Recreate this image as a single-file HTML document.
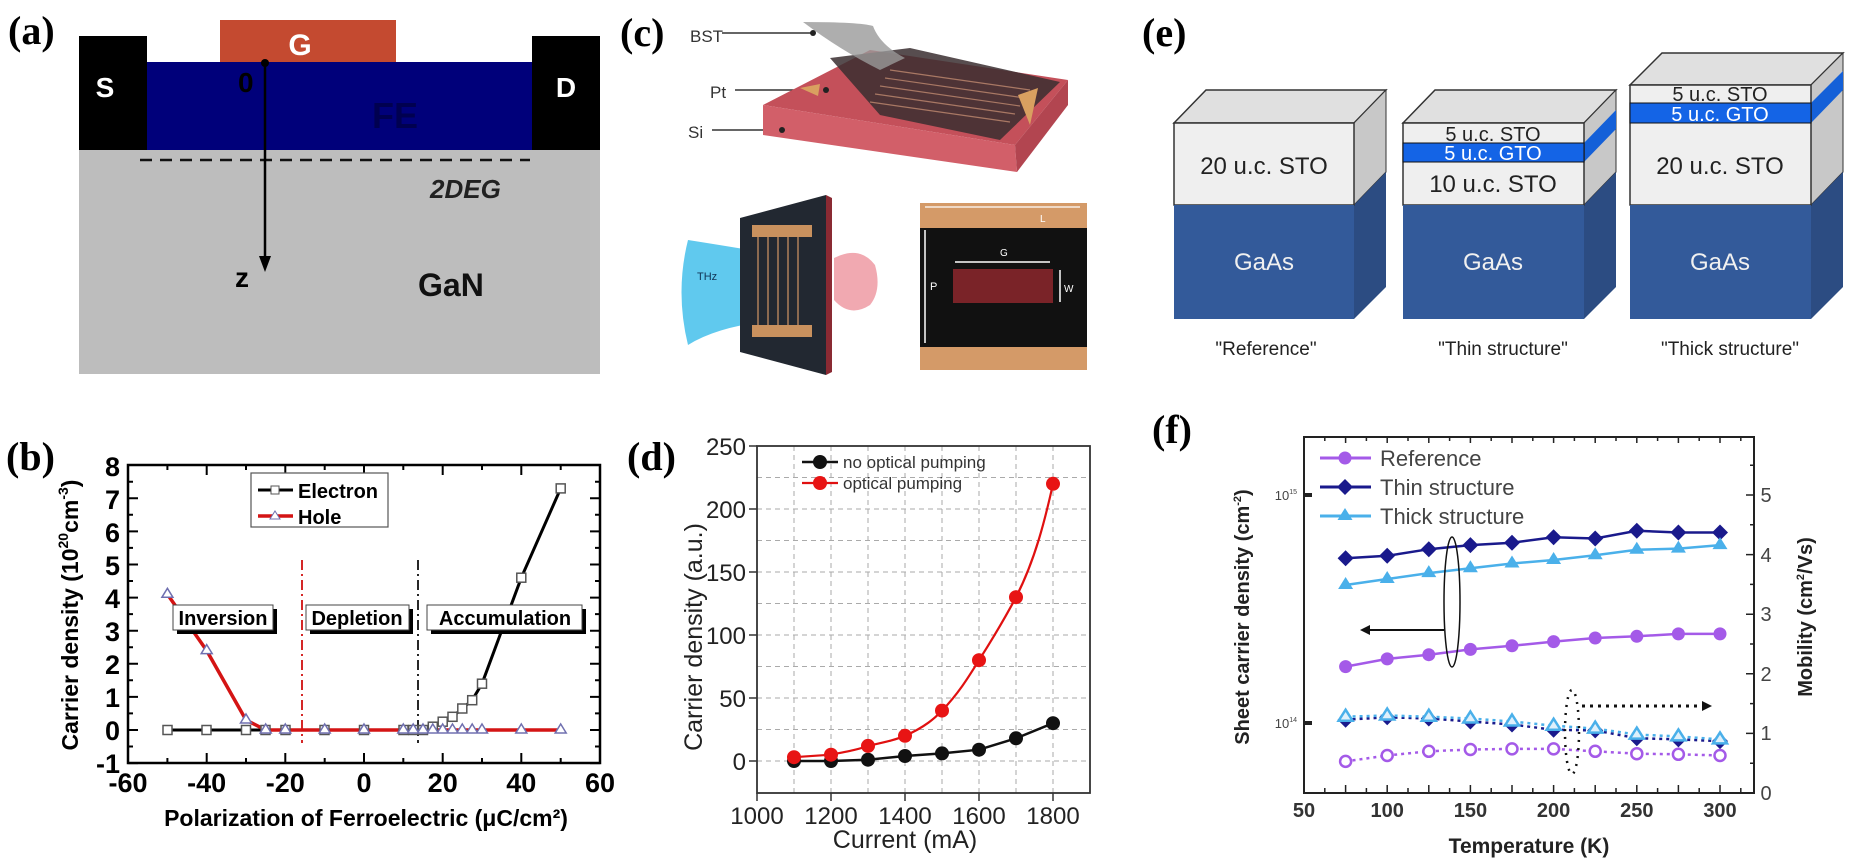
<!DOCTYPE html>
<html><head><meta charset="utf-8"><style>
html,body{margin:0;padding:0;background:#fff;}
svg{display:block;}
text{font-family:"Liberation Sans",sans-serif;}
.pl{font-family:"Liberation Serif",serif;font-weight:bold;font-size:40px;}
</style></head><body>
<svg width="1850" height="866" viewBox="0 0 1850 866" xmlns="http://www.w3.org/2000/svg">
<!-- (a) -->
<text class="pl" x="8" y="44">(a)</text>
<rect x="79" y="150" width="521" height="224" fill="#bdbdbd"/>
<rect x="147" y="62" width="385" height="88" fill="#00007a"/>
<rect x="79" y="36" width="68" height="114" fill="#000"/>
<rect x="532" y="36" width="68" height="114" fill="#000"/>
<rect x="220" y="20" width="176" height="42" fill="#c44a30"/>
<text x="300" y="55" font-size="30" font-weight="bold" fill="#fff" text-anchor="middle">G</text>
<text x="105" y="97" font-size="28" font-weight="bold" fill="#fff" text-anchor="middle">S</text>
<text x="566" y="97" font-size="28" font-weight="bold" fill="#fff" text-anchor="middle">D</text>
<text x="395" y="128" font-size="36" font-weight="bold" fill="#000050" text-anchor="middle">FE</text>
<text x="238" y="92" font-size="28" font-weight="bold" fill="#000">0</text>
<line x1="140" y1="160" x2="530" y2="160" stroke="#111" stroke-width="2.5" stroke-dasharray="12,8"/>
<text x="430" y="198" font-size="26" font-weight="bold" font-style="italic" fill="#222">2DEG</text>
<circle cx="265" cy="63" r="4" fill="#000"/>
<line x1="265" y1="63" x2="265" y2="262" stroke="#000" stroke-width="2.5"/>
<polygon points="259,256 271,256 265,272" fill="#000"/>
<text x="235" y="287" font-size="28" font-weight="bold">z</text>
<text x="418" y="296" font-size="32" font-weight="bold" fill="#111">GaN</text>

<!-- (c) -->
<text class="pl" x="620" y="46">(c)</text>
<text x="690" y="42" font-size="17" fill="#333">BST</text>
<line x1="722" y1="33" x2="812" y2="33" stroke="#333" stroke-width="1.5"/>
<text x="710" y="98" font-size="17" fill="#333">Pt</text>
<line x1="735" y1="90" x2="826" y2="90" stroke="#333" stroke-width="1.5"/>
<text x="688" y="138" font-size="17" fill="#333">Si</text>
<line x1="712" y1="130" x2="782" y2="130" stroke="#333" stroke-width="1.5"/>
<polygon points="763,105 870,50 1068,80 1015,145" fill="#c4505a"/>
<polygon points="763,105 1015,145 1017,172 763,135" fill="#d25f69"/>
<polygon points="1015,145 1068,80 1068,105 1017,172" fill="#b24550"/>
<polygon points="830,58 910,48 1060,82 1000,140 880,115" fill="#3a2e30" opacity="0.85"/>
<g stroke="#c08a70" stroke-width="1.2" opacity="0.8">
<line x1="890" y1="70" x2="1030" y2="90"/><line x1="885" y1="78" x2="1025" y2="98"/><line x1="880" y1="86" x2="1020" y2="106"/><line x1="875" y1="94" x2="1015" y2="114"/><line x1="870" y1="102" x2="1010" y2="122"/>
</g>
<polygon points="1018,95 1038,88 1030,125" fill="#d9a060"/>
<polygon points="800,88 820,84 818,96" fill="#d9a060"/>
<path d="M803,22 Q860,22 873,26 Q880,45 905,58 L880,70 Q840,50 803,22 Z" fill="#9a9a9a" opacity="0.8"/>
<circle cx="813" cy="33" r="3" fill="#222"/><circle cx="826" cy="90" r="3" fill="#222"/><circle cx="782" cy="130" r="3" fill="#222"/>
<path d="M688,240 Q720,245 780,255 L780,320 Q720,325 688,345 Q675,292 688,240 Z" fill="#4fc3ec" opacity="0.9"/>
<polygon points="740,218 826,195 826,375 740,352" fill="#222831"/>
<polygon points="826,195 832,198 832,372 826,375" fill="#8a2a33"/>
<rect x="752" y="225" width="60" height="12" fill="#c9915e"/>
<rect x="752" y="325" width="60" height="12" fill="#c9915e"/>
<g stroke="#b0805a" stroke-width="1.5"><line x1="758" y1="237" x2="758" y2="325"/><line x1="768" y1="237" x2="768" y2="325"/><line x1="778" y1="237" x2="778" y2="325"/><line x1="788" y1="237" x2="788" y2="325"/><line x1="798" y1="237" x2="798" y2="325"/></g>
<path d="M834,258 Q860,245 875,265 Q882,290 870,305 Q850,318 834,300 Z" fill="#ee9aa3" opacity="0.85"/>
<text x="697" y="280" font-size="11" fill="#135">THz</text>
<rect x="920" y="203" width="167" height="167" fill="#111"/>
<rect x="920" y="203" width="167" height="25" fill="#d49a68"/>
<rect x="920" y="347" width="167" height="23" fill="#d49a68"/>
<rect x="953" y="269" width="100" height="34" fill="#7a2328"/>
<line x1="925" y1="207" x2="1080" y2="207" stroke="#fff" stroke-width="1.2"/>
<line x1="955" y1="262" x2="1050" y2="262" stroke="#fff" stroke-width="1.5"/>
<line x1="1060" y1="270" x2="1060" y2="302" stroke="#fff" stroke-width="1.5"/>
<line x1="925" y1="230" x2="925" y2="343" stroke="#fff" stroke-width="1.5"/>
<text x="930" y="290" font-size="11" fill="#fff">P</text>
<text x="1064" y="292" font-size="10" fill="#fff">W</text>
<text x="1000" y="256" font-size="10" fill="#fff">G</text>
<text x="1040" y="222" font-size="10" fill="#fff">L</text>

<!-- (e) -->
<text class="pl" x="1142" y="46">(e)</text>
<g font-family="Liberation Sans Narrow, Liberation Sans, sans-serif">
<polygon points="1174,123 1206,90 1386,90 1354,123" fill="#e0e0e0" stroke="#333" stroke-width="1.5"/>
<polygon points="1354,123 1386,90 1386,172 1354,205" fill="#c8c8c8" stroke="#333" stroke-width="1"/>
<polygon points="1354,205 1386,172 1386,287 1354,319" fill="#2c4c82"/>
<rect x="1174" y="123" width="180" height="82" fill="#efefef" stroke="#333" stroke-width="1.5"/>
<rect x="1174" y="205" width="180" height="114" fill="#335a9a"/>
<text x="1264" y="174" font-size="24" text-anchor="middle" fill="#222">20 u.c. STO</text>
<text x="1264" y="270" font-size="24" text-anchor="middle" fill="#f0f0f0">GaAs</text>
<polygon points="1403,123 1435,90 1616,90 1584,123" fill="#e0e0e0" stroke="#333" stroke-width="1.5"/>
<polygon points="1584,123 1616,90 1616,172 1584,205" fill="#c8c8c8" stroke="#333" stroke-width="1"/>
<polygon points="1584,143 1616,110 1616,129 1584,162" fill="#1460d8"/>
<polygon points="1584,205 1616,172 1616,287 1584,319" fill="#2c4c82"/>
<rect x="1403" y="123" width="181" height="82" fill="#efefef" stroke="#333" stroke-width="1.5"/>
<rect x="1403" y="143" width="181" height="19" fill="#1464e6" stroke="#111" stroke-width="1"/>
<rect x="1403" y="205" width="181" height="114" fill="#335a9a"/>
<text x="1493" y="141" font-size="20" text-anchor="middle" fill="#222">5 u.c. STO</text>
<text x="1493" y="160" font-size="20" text-anchor="middle" fill="#fff">5 u.c. GTO</text>
<text x="1493" y="192" font-size="24" text-anchor="middle" fill="#222">10 u.c. STO</text>
<text x="1493" y="270" font-size="24" text-anchor="middle" fill="#f0f0f0">GaAs</text>
<polygon points="1630,85 1662,53 1843,53 1811,85" fill="#e0e0e0" stroke="#333" stroke-width="1.5"/>
<polygon points="1811,85 1843,53 1843,172 1811,205" fill="#c8c8c8" stroke="#333" stroke-width="1"/>
<polygon points="1811,103 1843,71 1843,90 1811,123" fill="#1460d8"/>
<polygon points="1811,205 1843,172 1843,287 1811,319" fill="#2c4c82"/>
<rect x="1630" y="85" width="181" height="120" fill="#efefef" stroke="#333" stroke-width="1.5"/>
<rect x="1630" y="103" width="181" height="20" fill="#1464e6" stroke="#111" stroke-width="1"/>
<rect x="1630" y="205" width="181" height="114" fill="#335a9a"/>
<text x="1720" y="101" font-size="20" text-anchor="middle" fill="#222">5 u.c. STO</text>
<text x="1720" y="121" font-size="20" text-anchor="middle" fill="#fff">5 u.c. GTO</text>
<text x="1720" y="174" font-size="24" text-anchor="middle" fill="#222">20 u.c. STO</text>
<text x="1720" y="270" font-size="24" text-anchor="middle" fill="#f0f0f0">GaAs</text>
<text x="1266" y="355" font-size="19" text-anchor="middle" fill="#222">"Reference"</text>
<text x="1503" y="355" font-size="19" text-anchor="middle" fill="#222">"Thin structure"</text>
<text x="1730" y="355" font-size="19" text-anchor="middle" fill="#222">"Thick structure"</text>
</g>

<!-- (b) -->
<text class="pl" x="6" y="470">(b)</text>
<rect x="128" y="465" width="472" height="298" fill="none" stroke="#000" stroke-width="2.5"/>
<g stroke="#000" stroke-width="2">
<path d="M128,763.1h10M128,730h10M128,696.9h10M128,663.8h10M128,630.7h10M128,597.6h10M128,564.5h10M128,531.4h10M128,498.3h10M600,763.1h-10M600,730h-10M600,696.9h-10M600,663.8h-10M600,630.7h-10M600,597.6h-10M600,564.5h-10M600,531.4h-10M600,498.3h-10"/>
<path d="M128,746.5h5M128,713.4h5M128,680.3h5M128,647.2h5M128,614.1h5M128,581h5M128,547.9h5M128,514.8h5M128,481.7h5M600,746.5h-5M600,713.4h-5M600,680.3h-5M600,647.2h-5M600,614.1h-5M600,581h-5M600,547.9h-5M600,514.8h-5M600,481.7h-5"/>
<path d="M206.7,763v-10M285.3,763v-10M364,763v-10M442.7,763v-10M521.3,763v-10M206.7,465v10M285.3,465v10M364,465v10M442.7,465v10M521.3,465v10"/>
<path d="M167.4,763v-5M246,763v-5M324.7,763v-5M403.3,763v-5M482,763v-5M560.7,763v-5M167.4,465v5M246,465v5M324.7,465v5M403.3,465v5M482,465v5M560.7,465v5"/>
</g>
<g font-size="27" font-weight="bold" text-anchor="end">
<text x="120" y="773">-1</text><text x="120" y="740">0</text><text x="120" y="707">1</text><text x="120" y="674">2</text><text x="120" y="641">3</text><text x="120" y="608">4</text><text x="120" y="575">5</text><text x="120" y="542">6</text><text x="120" y="509">7</text><text x="120" y="476">8</text>
</g>
<g font-size="27" font-weight="bold" text-anchor="middle">
<text x="128" y="792">-60</text><text x="206.7" y="792">-40</text><text x="285.3" y="792">-20</text><text x="364" y="792">0</text><text x="442.7" y="792">20</text><text x="521.3" y="792">40</text><text x="600" y="792">60</text>
</g>
<text x="366" y="826" font-size="23" font-weight="bold" text-anchor="middle">Polarization of Ferroelectric (μC/cm²)</text>
<text transform="translate(78,615) rotate(-90)" font-size="23" font-weight="bold" text-anchor="middle">Carrier density (10<tspan font-size="14" dy="-10">20</tspan><tspan dy="10">cm</tspan><tspan font-size="14" dy="-10">-3</tspan><tspan dy="10">)</tspan></text>
<line x1="302" y1="560" x2="302" y2="743" stroke="#d01010" stroke-width="1.8" stroke-dasharray="10,4,2,4"/>
<line x1="418" y1="560" x2="418" y2="743" stroke="#111" stroke-width="1.8" stroke-dasharray="10,4,2,4"/>
<polyline fill="none" stroke="#000" stroke-width="3" points="167.4,730 413.2,730 423,730 432.8,726.7 442.7,721.7 452.5,716.8 462.3,708.5 472.2,700.2 482,683.7 521.3,577.7 560.7,488.4"/>
<polyline fill="none" stroke="#d41414" stroke-width="3.5" points="167.4,594.3 206.7,650.6 246,720 265.7,730 560.7,730"/>
<g fill="#fff" stroke="#555" stroke-width="1.5">
<rect x="163" y="725.5" width="9" height="9"/><rect x="202" y="725.5" width="9" height="9"/><rect x="241.5" y="725.5" width="9" height="9"/><rect x="261" y="725.5" width="9" height="9"/><rect x="281" y="725.5" width="9" height="9"/><rect x="320" y="725.5" width="9" height="9"/><rect x="359.5" y="725.5" width="9" height="9"/><rect x="399" y="725.5" width="9" height="9"/><rect x="408.7" y="725.5" width="9" height="9"/><rect x="418.5" y="725.5" width="9" height="9"/><rect x="428.3" y="722.2" width="9" height="9"/><rect x="438.2" y="717.2" width="9" height="9"/><rect x="448" y="712.3" width="9" height="9"/><rect x="457.8" y="704" width="9" height="9"/><rect x="467.7" y="695.7" width="9" height="9"/><rect x="477.5" y="679.2" width="9" height="9"/><rect x="516.8" y="573.2" width="9" height="9"/><rect x="556.2" y="483.9" width="9" height="9"/>
</g>
<g fill="#fff" stroke="#7070b0" stroke-width="1.5">
<path d="M167.4,588.3l5.5,9h-11z M206.7,644.6l5.5,9h-11z M246,714l5.5,9h-11z M265.7,724l5.5,9h-11z M285.3,724l5.5,9h-11z M324.7,724l5.5,9h-11z M364,724l5.5,9h-11z M403.3,724l5.5,9h-11z M413.2,724l5.5,9h-11z M423,724l5.5,9h-11z M432.8,724l5.5,9h-11z M442.7,724l5.5,9h-11z M452.5,724l5.5,9h-11z M462.3,724l5.5,9h-11z M472.2,724l5.5,9h-11z M482,724l5.5,9h-11z M521.3,724l5.5,9h-11z M560.7,724l5.5,9h-11z"/>
</g>
<rect x="251" y="473" width="137" height="54" fill="#fff" stroke="#555" stroke-width="1.2"/>
<line x1="258" y1="490" x2="293" y2="490" stroke="#000" stroke-width="3"/><rect x="271" y="486" width="8" height="8" fill="#fff" stroke="#555"/>
<line x1="258" y1="516" x2="293" y2="516" stroke="#d41414" stroke-width="3.5"/><path d="M275,511l5,8h-10z" fill="#fff" stroke="#7070b0"/>
<text x="298" y="498" font-size="20" font-weight="bold">Electron</text>
<text x="298" y="524" font-size="20" font-weight="bold">Hole</text>
<g font-size="20" font-weight="bold">
<rect x="177" y="609" width="100" height="25" fill="#000"/><rect x="173" y="605" width="100" height="25" fill="#fff" stroke="#444"/><text x="223" y="625" text-anchor="middle">Inversion</text>
<rect x="310" y="609" width="103" height="25" fill="#000"/><rect x="306" y="605" width="103" height="25" fill="#fff" stroke="#444"/><text x="357" y="625" text-anchor="middle">Depletion</text>
<rect x="431" y="609" width="155" height="25" fill="#000"/><rect x="427" y="605" width="155" height="25" fill="#fff" stroke="#444"/><text x="505" y="625" text-anchor="middle">Accumulation</text>
</g>

<!-- (d) -->
<text class="pl" x="627" y="470">(d)</text>
<g stroke="#aaa" stroke-width="1" stroke-dasharray="5,4">
<path d="M757,729.5H1090M757,698H1090M757,666.5H1090M757,635H1090M757,603.5H1090M757,572H1090M757,540.5H1090M757,509H1090M757,477.5H1090M757,761H1090"/>
<path d="M794,446V793M831,446V793M868,446V793M905,446V793M942,446V793M979,446V793M1016,446V793M1053,446V793"/>
</g>
<rect x="757" y="446" width="333" height="347" fill="none" stroke="#333" stroke-width="1.8"/>
<g stroke="#333" stroke-width="1.5"><path d="M757,761h-8M757,698h-8M757,635h-8M757,572h-8M757,509h-8M757,446h-8M831,793v8M905,793v8M979,793v8M1053,793v8M757,793v8"/></g>
<g font-size="24" text-anchor="end" fill="#222">
<text x="746" y="770">0</text><text x="746" y="707">50</text><text x="746" y="644">100</text><text x="746" y="581">150</text><text x="746" y="518">200</text><text x="746" y="455">250</text>
</g>
<g font-size="24" text-anchor="middle" fill="#222">
<text x="757" y="824">1000</text><text x="831" y="824">1200</text><text x="905" y="824">1400</text><text x="979" y="824">1600</text><text x="1053" y="824">1800</text>
</g>
<text x="905" y="848" font-size="25" text-anchor="middle" fill="#222">Current (mA)</text>
<text transform="translate(702,637) rotate(-90)" font-size="25" text-anchor="middle" fill="#222">Carrier density (a.u.)</text>
<polyline fill="none" stroke="#111" stroke-width="2.5" points="794,761 831,761 868,759.7 905,756 942,753.4 979,749.7 1016,738.3 1053,723.2"/>
<path fill="none" stroke="#e01010" stroke-width="2.2" d="M794,757.2 L831,754.7 C850,751 860,749 868,745.9 C885,742 895,740 905,735.8 C925,727 935,718 942,710.6 C958,694 968,678 979,660.2 C995,635 1005,618 1016,597.2 C1035,560 1045,520 1053,483.8"/>
<g fill="#111"><circle cx="794" cy="761" r="7"/><circle cx="831" cy="761" r="7"/><circle cx="868" cy="759.7" r="7"/><circle cx="905" cy="756" r="7"/><circle cx="942" cy="753.4" r="7"/><circle cx="979" cy="749.7" r="7"/><circle cx="1016" cy="738.3" r="7"/><circle cx="1053" cy="723.2" r="7"/></g>
<g fill="#e81414"><circle cx="794" cy="757.2" r="7"/><circle cx="831" cy="754.7" r="7"/><circle cx="868" cy="745.9" r="7"/><circle cx="905" cy="735.8" r="7"/><circle cx="942" cy="710.6" r="7"/><circle cx="979" cy="660.2" r="7"/><circle cx="1016" cy="597.2" r="7"/><circle cx="1053" cy="483.8" r="7"/></g>
<line x1="802" y1="462" x2="838" y2="462" stroke="#111" stroke-width="2.5"/><circle cx="820" cy="462" r="7" fill="#111"/>
<line x1="802" y1="483" x2="838" y2="483" stroke="#e01010" stroke-width="2.2"/><circle cx="820" cy="483" r="7" fill="#e81414"/>
<text x="843" y="468" font-size="17" fill="#333">no optical pumping</text>
<text x="843" y="489" font-size="17" fill="#333">optical pumping</text>

<!-- (f) -->
<text class="pl" x="1152" y="443">(f)</text>
<rect x="1304" y="437" width="450" height="356" fill="none" stroke="#222" stroke-width="2"/>
<g stroke="#222" stroke-width="1.5">
<path d="M1345.6,793v-8M1387.2,793v-8M1428.8,793v-8M1470.4,793v-8M1512,793v-8M1553.6,793v-8M1595.2,793v-8M1636.8,793v-8M1678.4,793v-8M1720,793v-8M1324.8,793v-5M1366.4,793v-5M1408,793v-5M1449.6,793v-5M1491.2,793v-5M1532.8,793v-5M1574.4,793v-5M1616,793v-5M1657.6,793v-5M1699.2,793v-5M1740.8,793v-5"/>
<path d="M1345.6,437v6M1387.2,437v6M1428.8,437v6M1470.4,437v6M1512,437v6M1553.6,437v6M1595.2,437v6M1636.8,437v6M1678.4,437v6M1720,437v6M1324.8,437v4M1366.4,437v4M1408,437v4M1449.6,437v4M1491.2,437v4M1532.8,437v4M1574.4,437v4M1616,437v4M1657.6,437v4M1699.2,437v4M1740.8,437v4"/>
<path d="M1754,793h-8M1754,733.4h-8M1754,673.8h-8M1754,614.2h-8M1754,554.6h-8M1754,495h-8M1754,763.2h-4M1754,703.6h-4M1754,644h-4M1754,584.4h-4M1754,524.8h-4M1754,465.2h-4"/>
</g>
<g stroke="#222" stroke-width="4"><path d="M1304,495h8M1304,723h8"/></g>
<g font-size="13" fill="#444" text-anchor="end"><text x="1297" y="500">10<tspan font-size="7" dy="-6">15</tspan></text><text x="1297" y="728">10<tspan font-size="7" dy="-6">14</tspan></text></g>
<g font-size="20" fill="#333" font-weight="bold" text-anchor="middle">
<text x="1304" y="817">50</text><text x="1387.2" y="817">100</text><text x="1470.4" y="817">150</text><text x="1553.6" y="817">200</text><text x="1636.8" y="817">250</text><text x="1720" y="817">300</text>
</g>
<g font-size="20" fill="#444" text-anchor="middle">
<text x="1766" y="800">0</text><text x="1766" y="740">1</text><text x="1766" y="681">2</text><text x="1766" y="621">3</text><text x="1766" y="562">4</text><text x="1766" y="502">5</text>
</g>
<text x="1529" y="853" font-size="21" font-weight="bold" fill="#222" text-anchor="middle">Temperature (K)</text>
<text transform="translate(1249,617) rotate(-90)" font-size="20" font-weight="bold" fill="#222" text-anchor="middle">Sheet carrier density (cm<tspan font-size="11" dy="-8">-2</tspan><tspan dy="8">)</tspan></text>
<text transform="translate(1812,617) rotate(-90)" font-size="20" font-weight="bold" fill="#222" text-anchor="middle">Mobility (cm<tspan font-size="11" dy="-8">2</tspan><tspan dy="8">/Vs)</tspan></text>
<polyline fill="none" stroke="#a45ae8" stroke-width="2.5" points="1345.6,666.6 1387.2,658.9 1428.8,654.7 1470.4,649.4 1512,645.8 1553.6,641.6 1595.2,638 1636.8,636.3 1678.4,633.9 1720,633.9"/>
<polyline fill="none" stroke="#1a1a8c" stroke-width="2.5" points="1345.6,558.2 1387.2,555.8 1428.8,549.2 1470.4,545.1 1512,542.7 1553.6,537.3 1595.2,538.5 1636.8,530.8 1678.4,532.5 1720,532.5"/>
<polyline fill="none" stroke="#4ab0ea" stroke-width="2.5" points="1345.6,585 1387.2,579 1428.8,573.1 1470.4,568.3 1512,563.5 1553.6,560 1595.2,555.2 1636.8,549.8 1678.4,548.6 1720,545.1"/>
<g fill="#a45ae8"><circle cx="1345.6" cy="666.6" r="6.5"/><circle cx="1387.2" cy="658.9" r="6.5"/><circle cx="1428.8" cy="654.7" r="6.5"/><circle cx="1470.4" cy="649.4" r="6.5"/><circle cx="1512" cy="645.8" r="6.5"/><circle cx="1553.6" cy="641.6" r="6.5"/><circle cx="1595.2" cy="638" r="6.5"/><circle cx="1636.8" cy="636.3" r="6.5"/><circle cx="1678.4" cy="633.9" r="6.5"/><circle cx="1720" cy="633.9" r="6.5"/></g>
<g fill="#1a1a8c"><path d="M1345.6,550.2l8,8l-8,8l-8,-8z M1387.2,547.8l8,8l-8,8l-8,-8z M1428.8,541.2l8,8l-8,8l-8,-8z M1470.4,537.1l8,8l-8,8l-8,-8z M1512,534.7l8,8l-8,8l-8,-8z M1553.6,529.3l8,8l-8,8l-8,-8z M1595.2,530.5l8,8l-8,8l-8,-8z M1636.8,522.8l8,8l-8,8l-8,-8z M1678.4,524.5l8,8l-8,8l-8,-8z M1720,524.5l8,8l-8,8l-8,-8z"/></g>
<g fill="#4ab0ea"><path d="M1345.6,577l7.5,12h-15z M1387.2,571l7.5,12h-15z M1428.8,565.1l7.5,12h-15z M1470.4,560.3l7.5,12h-15z M1512,555.5l7.5,12h-15z M1553.6,552l7.5,12h-15z M1595.2,547.2l7.5,12h-15z M1636.8,541.8l7.5,12h-15z M1678.4,540.6l7.5,12h-15z M1720,537.1l7.5,12h-15z"/></g>
<polyline fill="none" stroke="#a45ae8" stroke-width="2.5" stroke-dasharray="3,4" points="1345.6,761.4 1387.2,755.5 1428.8,751.3 1470.4,749.5 1512,748.9 1553.6,748.9 1595.2,751.3 1636.8,753.7 1678.4,754.3 1720,755.5"/>
<polyline fill="none" stroke="#1a1a8c" stroke-width="2.5" stroke-dasharray="3,4" points="1345.6,719.7 1387.2,717.3 1428.8,718.5 1470.4,721.5 1512,724.5 1553.6,729.8 1595.2,730.4 1636.8,738.2 1678.4,739.4 1720,741.1"/>
<polyline fill="none" stroke="#4ab0ea" stroke-width="2.5" stroke-dasharray="3,4" points="1345.6,716.7 1387.2,715.5 1428.8,716.7 1470.4,718.5 1512,721.5 1553.6,725.7 1595.2,728.6 1636.8,734.6 1678.4,736.4 1720,739.4"/>
<g fill="#1a1a8c"><path d="M1345.6,711.7l8,8l-8,8l-8,-8z M1387.2,709.3l8,8l-8,8l-8,-8z M1428.8,710.5l8,8l-8,8l-8,-8z M1470.4,713.5l8,8l-8,8l-8,-8z M1512,716.5l8,8l-8,8l-8,-8z M1553.6,721.8l8,8l-8,8l-8,-8z M1595.2,722.4l8,8l-8,8l-8,-8z M1636.8,730.2l8,8l-8,8l-8,-8z M1678.4,731.4l8,8l-8,8l-8,-8z M1720,733.1l8,8l-8,8l-8,-8z"/></g>
<g fill="#dff0fb" stroke="#4ab0ea" stroke-width="2.5"><path d="M1345.6,709.7l7,11h-14z M1387.2,708.5l7,11h-14z M1428.8,709.7l7,11h-14z M1470.4,711.5l7,11h-14z M1512,714.5l7,11h-14z M1553.6,718.7l7,11h-14z M1595.2,721.6l7,11h-14z M1636.8,727.6l7,11h-14z M1678.4,729.4l7,11h-14z M1720,732.4l7,11h-14z"/></g>
<g fill="#fff" stroke="#a45ae8" stroke-width="2.5"><circle cx="1345.6" cy="761.4" r="5.5"/><circle cx="1387.2" cy="755.5" r="5.5"/><circle cx="1428.8" cy="751.3" r="5.5"/><circle cx="1470.4" cy="749.5" r="5.5"/><circle cx="1512" cy="748.9" r="5.5"/><circle cx="1553.6" cy="748.9" r="5.5"/><circle cx="1595.2" cy="751.3" r="5.5"/><circle cx="1636.8" cy="753.7" r="5.5"/><circle cx="1678.4" cy="754.3" r="5.5"/><circle cx="1720" cy="755.5" r="5.5"/></g>
<ellipse cx="1452" cy="602" rx="8" ry="65" fill="none" stroke="#111" stroke-width="1.5"/>
<line x1="1444" y1="630" x2="1366" y2="630" stroke="#111" stroke-width="2"/>
<path d="M1360,630l10,-5v10z" fill="#111"/>
<ellipse cx="1572" cy="732" rx="7" ry="42" fill="none" stroke="#111" stroke-width="2.5" stroke-dasharray="2,6"/>
<line x1="1582" y1="706" x2="1702" y2="706" stroke="#111" stroke-width="3" stroke-dasharray="3,5"/>
<path d="M1712,706l-10,-5v10z" fill="#111"/>
<line x1="1320" y1="458" x2="1371" y2="458" stroke="#a45ae8" stroke-width="3"/><circle cx="1345" cy="458" r="6.5" fill="#a45ae8"/>
<line x1="1320" y1="487" x2="1371" y2="487" stroke="#1a1a8c" stroke-width="3"/><path d="M1345,479l8,8l-8,8l-8,-8z" fill="#1a1a8c"/>
<line x1="1320" y1="516" x2="1371" y2="516" stroke="#4ab0ea" stroke-width="3"/><path d="M1345,508l7.5,12h-15z" fill="#4ab0ea"/>
<text x="1380" y="466" font-size="22" fill="#444">Reference</text>
<text x="1380" y="495" font-size="22" fill="#444">Thin structure</text>
<text x="1380" y="524" font-size="22" fill="#444">Thick structure</text>
</svg>
</body></html>
